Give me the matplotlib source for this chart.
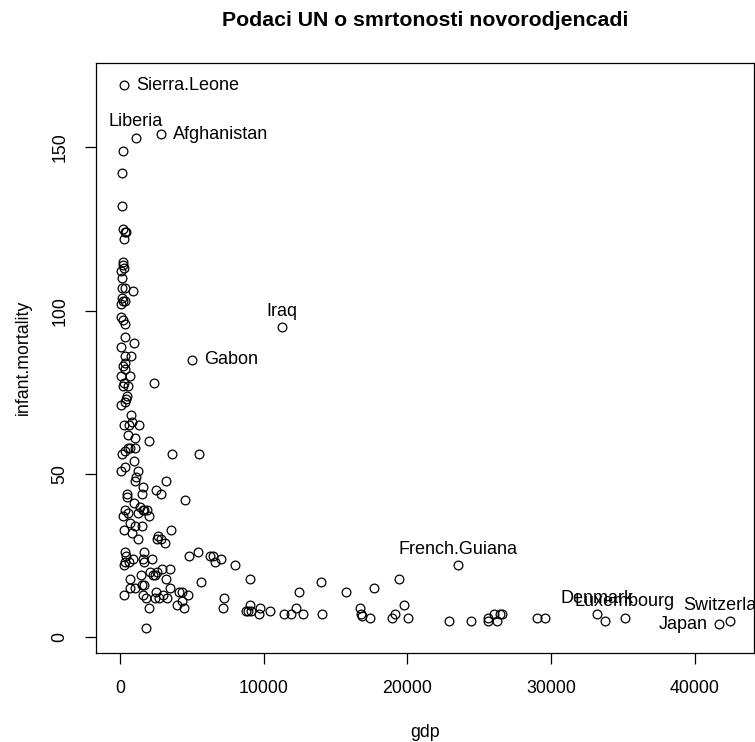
import matplotlib
matplotlib.use("Agg")
import matplotlib.pyplot as plt

plt.rcParams['font.family'] = ['Liberation Sans', 'DejaVu Sans']

# labelled countries
label_names = ["Sierra.Leone", "Liberia", "Afghanistan", "Iraq", "Gabon",
               "French.Guiana", "Denmark", "Luxembourg", "Japan", "Switzerland"]
label_gdp = [280, 1110, 2848, 11280, 5010, 23540, 33200, 35120, 41710, 42430]
label_im = [169, 153, 154, 95, 85, 22, 7, 6, 4, 5]
label_side = ["right", "top", "right", "top", "right", "top", "top", "top", "left", "top"]

# the rest of the countries
gdp = [190, 140, 120, 230, 420, 350, 300, 190, 230, 280, 90, 140, 140, 370, 900,
       160, 370, 230, 70, 50, 190, 370, 370, 1000, 90, 330, 750, 370, 230, 370,
       90, 720, 280, 2390, 190, 560, 510, 420, 370, 50, 770, 860, 280, 1340, 610,
       560, 1040, 2040, 120, 350, 580, 700, 1050, 3620, 5480, 975, 370, 50, 1270,
       1090, 1020, 3220, 1580, 470, 470, 1550, 2490, 2830, 4510, 975, 1390, 1580,
       1860, 1690, 350, 580, 230, 1270, 2040, 700, 1040, 1550, 300, 860, 3550,
       1230, 2630, 2830, 3130, 2580, 370, 420, 1670, 4830, 5430, 6270, 6500, 7010,
       6600, 930, 1620, 2210, 350, 280, 650, 1690, 8030, 2920, 3500, 2090, 2440,
       2320, 2600, 1480, 3220, 9070, 700, 5620, 1670, 1530, 700, 1020, 3480, 280,
       1580, 1810, 2510, 2460, 2740, 3020, 3290, 4110, 4340, 4760, 3990, 4340,
       4480, 2000, 7260, 7170, 9030, 8750, 8940, 9120, 9660, 9750, 10430, 11420,
       11890, 12240, 12490, 12720, 1810, 14000, 14090, 15760, 16670, 16740, 16850,
       17410, 17710, 18940, 19150, 19450, 19760, 20060, 22910, 24440, 25580, 25630,
       26000, 26250, 26460, 26600, 29020, 29600, 33750]
infant_mortality = [149, 142, 132, 125, 124, 124, 122, 115, 114, 113, 112, 110, 107,
                    107, 106, 104, 103, 103, 102, 98, 97, 96, 92, 90, 89, 86, 86,
                    84, 83, 82, 80, 80, 78, 78, 77, 77, 74, 73, 72, 71, 68, 66, 65,
                    65, 65, 62, 61, 60, 56, 57, 58, 58, 58, 56, 56, 54, 52, 51, 51,
                    49, 48, 48, 46, 44, 43, 44, 45, 44, 42, 41, 40, 39, 39, 39, 39,
                    38, 37, 38, 37, 35, 34, 34, 33, 32, 33, 30, 31, 30, 29, 30, 26,
                    25, 26, 25, 26, 25, 25, 24, 23, 24, 24, 24, 23, 22, 23, 23, 22,
                    21, 21, 20, 19, 19, 20, 19, 18, 18, 18, 17, 16, 16, 15, 15, 15,
                    13, 13, 12, 14, 12, 12, 13, 12, 14, 14, 13, 10, 11, 9, 9, 12, 9,
                    10, 8, 8, 8, 7, 9, 8, 7, 7, 9, 14, 7, 3, 17, 7, 14, 9, 7, 6.5, 6,
                    15, 6, 7, 18, 10, 6, 5, 5, 6, 5, 7, 5, 7, 7, 6, 6, 5]

fig = plt.figure(figsize=(7.55, 7.42), dpi=100)
ax = fig.add_axes([96 / 755, 1 - 652.5 / 742, (754.3 - 96) / 755, (652.5 - 62.7) / 742])

ax.plot(gdp + label_gdp, infant_mortality + label_im, linestyle='none', marker='o',
        ms=6.3, mfc='none', mec='black', mew=0.9)

offsets = {"right": ((8.5, 0), "left", "center"),
           "top": ((0, 11.5), "center", "center"),
           "left": ((-8.5, 0), "right", "center")}
for name, x, y, side in zip(label_names, label_gdp, label_im, label_side):
    off, ha, va = offsets[side]
    ax.annotate(name, (x, y), xytext=off, textcoords='offset points',
                ha=ha, va=va, fontsize=13)

ax.set_xlim(-1670, 44146)
ax.set_ylim(-4.65, 175.9)
ax.set_xticks([0, 10000, 20000, 30000, 40000])
ax.set_yticks([0, 50, 100, 150])
ax.tick_params(direction='out', length=8, width=0.9, labelsize=12.8, pad=12)
for lab in ax.get_yticklabels():
    lab.set_rotation(90)
    lab.set_va('center')
for s in ax.spines.values():
    s.set_linewidth(0.9)

ax.set_xlabel("gdp", fontsize=12.8, labelpad=19)
ax.set_ylabel("infant.mortality", fontsize=12.8, labelpad=14)
fig.text((96 + 754.3) / 2 / 755, 1 - 20 / 742, "Podaci UN o smrtonosti novorodjencadi",
         ha='center', va='center', fontsize=15.3, fontweight='bold')

fig.savefig("out.png", dpi=100)
